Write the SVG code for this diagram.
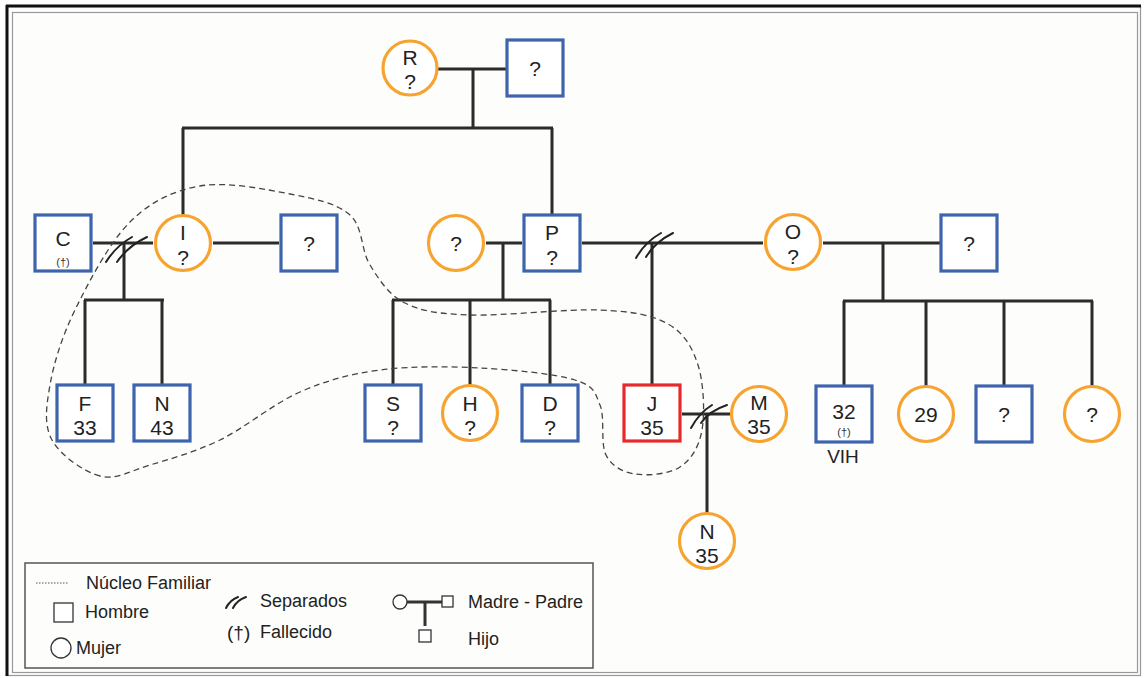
<svg xmlns="http://www.w3.org/2000/svg" width="1145" height="678" viewBox="0 0 1145 678">
<defs>
<style>
.m{fill:#fff;stroke:#3d64ad;stroke-width:3.2}
.f{fill:#fff;stroke:#f6a32f;stroke-width:3.2}
.p{fill:#fff;stroke:#e62a2c;stroke-width:3.2}
.t{font-family:"Liberation Sans",Arial,sans-serif;font-size:21px;fill:#222;text-anchor:middle}
.s{font-family:"Liberation Sans",Arial,sans-serif;font-size:11px;fill:#333;text-anchor:middle}
.c{fill:none;stroke:#2b2b2b;stroke-width:3}
.sep{fill:none;stroke:#222;stroke-width:2;stroke-linecap:round}
.lg{font-family:"Liberation Sans",Arial,sans-serif;font-size:18px;fill:#222}
.li{fill:#fff;stroke:#333;stroke-width:1.3}
</style>
</defs>
<rect width="1145" height="678" fill="#ffffff"/>
<rect x="6.5" y="6.5" width="1134" height="669" fill="#fdfdfb" stroke="#999" stroke-width="1.2"/>
<line x1="6" y1="6" x2="1141" y2="6" stroke="#111" stroke-width="3"/>
<line x1="7" y1="5" x2="7" y2="676" stroke="#111" stroke-width="3"/>
<rect x="12.5" y="12.5" width="1125" height="660" fill="none" stroke="#999" stroke-width="1.2"/>

<g id="connectors">
<path class="c" d="M438 69H507M473 69V128M182 128H553M183 128V215M552 128V215"/>
<path class="c" d="M93 243H153M124 243V300M84 300H164M85 300V385M162 300V385"/>
<path class="c" d="M213 243H279"/>
<path class="c" d="M486 243H522M503 243V300M392 300H551M393 300V385M470 300V385M550 300V385"/>
<path class="c" d="M582 243H763M652 243V385"/>
<path class="c" d="M823 243H941M883 243V301M843 301H1093M844 301V385M926 301V386M1004 301V386M1092 301V386"/>
<path class="c" d="M682 414H731M707 414V513"/>
<path class="sep" d="M106 262Q116 246 132 237M117 262Q128 246 147 237"/>
<path class="sep" d="M636 258Q645 242 661 233M646 257Q655 242 673 233"/>
<path class="sep" d="M691 428Q699 413 712 405M701 423Q709 411 727 405"/>
</g>

<g id="nucleo-familiar">
<path fill="none" stroke="#444" stroke-width="1.3" stroke-dasharray="6 4" d="M100 476C83.7 471.8 60.3 455.2 52 440C43.7 424.8 46.2 406.7 50 385C53.8 363.3 61.7 337.2 75 310C88.3 282.8 109.2 242.7 130 222C150.8 201.3 173.3 190.7 200 186C226.7 181.3 265 189.2 290 194C315 198.8 336.7 203.2 350 215C363.3 226.8 360.8 250.3 370 265C379.2 279.7 388.3 294.7 405 303C421.7 311.3 437.5 313.8 470 315C502.5 316.2 567 308.5 600 310C633 311.5 651.7 314.8 668 324C684.3 333.2 692.3 347.3 698 365C703.7 382.7 705 413 702 430C699 447 691.2 459.7 680 467C668.8 474.3 647.3 476 635 474C622.7 472 611.8 466.5 606 455C600.2 443.5 605.2 417.5 600 405C594.8 392.5 595 386.2 575 380C555 373.8 512.5 369.7 480 368C447.5 366.3 410 366 380 370C350 374 326.7 380.3 300 392C273.3 403.7 245 427.8 220 440C195 452.2 170 459 150 465C130 471 116.3 480.2 100 476Z"/>
</g>

<g id="n-R"><circle class="f" cx="410" cy="68" r="27"/><text class="t" x="410" y="65">R</text><text class="t" x="410" y="89">?</text></g>
<g id="n-Rh"><rect class="m" x="507" y="40" width="56" height="56"/><text class="t" x="535" y="76">?</text></g>

<g id="n-C"><rect class="m" x="35" y="215" width="56" height="56"/><text class="t" x="63" y="246">C</text><text class="s" x="63" y="266">(†)</text></g>
<g id="n-I"><circle class="f" cx="183" cy="243" r="27.5"/><text class="t" x="183" y="240">I</text><text class="t" x="183" y="265">?</text></g>
<g id="n-Ih"><rect class="m" x="281" y="215" width="56" height="56"/><text class="t" x="309" y="251">?</text></g>
<g id="n-Pw"><circle class="f" cx="456" cy="243" r="27.5"/><text class="t" x="456" y="251">?</text></g>
<g id="n-P"><rect class="m" x="524" y="215" width="56" height="56"/><text class="t" x="552" y="240">P</text><text class="t" x="552" y="265">?</text></g>
<g id="n-O"><circle class="f" cx="793" cy="242" r="27.5"/><text class="t" x="793" y="239">O</text><text class="t" x="793" y="264">?</text></g>
<g id="n-Oh"><rect class="m" x="941" y="215" width="56" height="56"/><text class="t" x="969" y="251">?</text></g>

<g id="n-F"><rect class="m" x="57" y="385" width="56" height="56"/><text class="t" x="85" y="411">F</text><text class="t" x="85" y="435">33</text></g>
<g id="n-N1"><rect class="m" x="134" y="385" width="56" height="56"/><text class="t" x="162" y="411">N</text><text class="t" x="162" y="435">43</text></g>
<g id="n-S"><rect class="m" x="365" y="385" width="56" height="56"/><text class="t" x="393" y="411">S</text><text class="t" x="393" y="435">?</text></g>
<g id="n-H"><circle class="f" cx="470" cy="413" r="27.5"/><text class="t" x="470" y="411">H</text><text class="t" x="470" y="435">?</text></g>
<g id="n-D"><rect class="m" x="522" y="385" width="56" height="56"/><text class="t" x="550" y="411">D</text><text class="t" x="550" y="435">?</text></g>
<g id="n-J"><rect class="p" x="624" y="385" width="56" height="56"/><text class="t" x="652" y="411">J</text><text class="t" x="652" y="435">35</text></g>
<g id="n-M"><circle class="f" cx="759" cy="414" r="27.5"/><text class="t" x="759" y="410">M</text><text class="t" x="759" y="434">35</text></g>
<g id="n-32"><rect class="m" x="816" y="386" width="56" height="56"/><text class="t" x="844" y="419">32</text><text class="s" x="844" y="436">(†)</text><text class="t" x="843" y="463" style="font-size:19px">VIH</text></g>
<g id="n-29"><circle class="f" cx="926" cy="414" r="27.5"/><text class="t" x="926" y="422">29</text></g>
<g id="n-Q1"><rect class="m" x="976" y="386" width="56" height="56"/><text class="t" x="1004" y="422">?</text></g>
<g id="n-Q2"><circle class="f" cx="1092" cy="414" r="27.5"/><text class="t" x="1092" y="422">?</text></g>
<g id="n-N2"><circle class="f" cx="707" cy="541" r="27.5"/><text class="t" x="707" y="539">N</text><text class="t" x="707" y="563">35</text></g>

<g id="legend">
<rect x="25" y="563" width="568" height="105" fill="none" stroke="#555" stroke-width="1.5"/>
<line x1="36" y1="583" x2="69" y2="583" stroke="#555" stroke-width="1" stroke-dasharray="1.5 1.5"/>
<text class="lg" x="86" y="589">Núcleo Familiar</text>
<rect class="li" x="54" y="603" width="19" height="19"/>
<text class="lg" x="85" y="618">Hombre</text>
<circle class="li" cx="61" cy="648" r="10"/>
<text class="lg" x="76" y="654">Mujer</text>
<path class="sep" stroke-width="1.5" d="M226 608Q230 600 238 597M233 608Q237 600 246 597"/>
<text class="lg" x="260" y="607">Separados</text>
<text class="lg" x="227" y="639" style="font-size:19px">(†)</text>
<text class="lg" x="260" y="638">Fallecido</text>
<circle class="li" cx="400" cy="602" r="7"/>
<path fill="none" stroke="#333" stroke-width="3" d="M407 602H442M425 602V626"/>
<rect class="li" x="442" y="596" width="11" height="11"/>
<rect class="li" x="419" y="630" width="12" height="12"/>
<text class="lg" x="468" y="608">Madre - Padre</text>
<text class="lg" x="468" y="645">Hijo</text>
</g>
</svg>
